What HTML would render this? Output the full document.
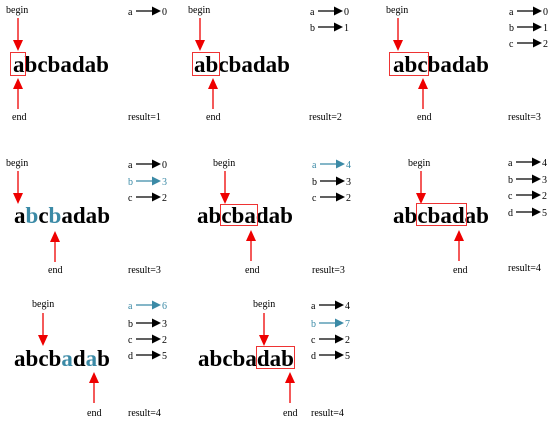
<!DOCTYPE html>
<html><head><meta charset="utf-8"><style>
html,body{margin:0;padding:0;background:#fff;}
svg{display:block;}
.s{font-family:"Liberation Serif",serif;font-size:10px;fill:#000;}
.w{font-family:"Liberation Serif",serif;font-size:23.5px;font-weight:bold;fill:#000;}
.bl{fill:#3b8aa6;}
</style></head><body>
<svg width="552" height="422" viewBox="0 0 552 422" xmlns="http://www.w3.org/2000/svg">
<defs>
<g id="rd"><line x1="0" y1="0" x2="0" y2="24" stroke="#e00" stroke-width="1.3"/><polygon points="-5,22 5,22 0,33" fill="#e00"/></g>
<g id="ru"><line x1="0" y1="0" x2="0" y2="-22" stroke="#e00" stroke-width="1.3"/><polygon points="-5,-20 5,-20 0,-31" fill="#e00"/></g>
<g id="ka"><line x1="8" y1="-4" x2="26" y2="-4" stroke="#000" stroke-width="1.2"/><polygon points="24,-8.5 33,-4 24,0.5" fill="#000"/></g>
<g id="ba"><line x1="8" y1="-4" x2="26" y2="-4" stroke="#3b8aa6" stroke-width="1.2"/><polygon points="24,-8.5 33,-4 24,0.5" fill="#3b8aa6"/></g>
</defs>

<!-- P1 -->
<text class="s" x="6" y="13">begin</text>
<use href="#rd" x="18" y="18"/>
<text class="w" x="13" y="72" textLength="96" lengthAdjust="spacingAndGlyphs">abcbadab</text>
<rect x="10.5" y="52.5" width="15" height="23" fill="none" stroke="#e33" stroke-width="1"/>
<use href="#ru" x="18" y="109"/>
<text class="s" x="12" y="120">end</text>
<text class="s" x="128" y="15">a</text><use href="#ka" x="128" y="15"/><text class="s" x="162" y="15">0</text>
<text class="s" x="128" y="120">result=1</text>

<!-- P2 -->
<text class="s" x="188" y="13">begin</text>
<use href="#rd" x="200" y="18"/>
<text class="w" x="194" y="72" textLength="96" lengthAdjust="spacingAndGlyphs">abcbadab</text>
<rect x="192.5" y="52.5" width="27" height="23" fill="none" stroke="#e33" stroke-width="1"/>
<use href="#ru" x="213" y="109"/>
<text class="s" x="206" y="120">end</text>
<text class="s" x="310" y="15">a</text><use href="#ka" x="310" y="15"/><text class="s" x="344" y="15">0</text>
<text class="s" x="310" y="31">b</text><use href="#ka" x="310" y="31"/><text class="s" x="344" y="31">1</text>
<text class="s" x="309" y="120">result=2</text>

<!-- P3 -->
<text class="s" x="386" y="13">begin</text>
<use href="#rd" x="398" y="18"/>
<text class="w" x="393" y="72" textLength="96" lengthAdjust="spacingAndGlyphs">abcbadab</text>
<rect x="389.5" y="52.5" width="39" height="23" fill="none" stroke="#e33" stroke-width="1"/>
<use href="#ru" x="423" y="109"/>
<text class="s" x="417" y="120">end</text>
<text class="s" x="509" y="15">a</text><use href="#ka" x="509" y="15"/><text class="s" x="543" y="15">0</text>
<text class="s" x="509" y="31">b</text><use href="#ka" x="509" y="31"/><text class="s" x="543" y="31">1</text>
<text class="s" x="509" y="47">c</text><use href="#ka" x="509" y="47"/><text class="s" x="543" y="47">2</text>
<text class="s" x="508" y="120">result=3</text>

<!-- P4 -->
<text class="s" x="6" y="166">begin</text>
<use href="#rd" x="18" y="171"/>
<text class="w" x="14" y="223" textLength="96" lengthAdjust="spacingAndGlyphs">a<tspan class="bl">b</tspan>c<tspan class="bl">b</tspan>adab</text>
<use href="#ru" x="55" y="262"/>
<text class="s" x="48" y="273">end</text>
<text class="s" x="128" y="168">a</text><use href="#ka" x="128" y="168"/><text class="s" x="162" y="168">0</text>
<text class="s bl" x="128" y="185">b</text><use href="#ba" x="128" y="185"/><text class="s bl" x="162" y="185">3</text>
<text class="s" x="128" y="201">c</text><use href="#ka" x="128" y="201"/><text class="s" x="162" y="201">2</text>
<text class="s" x="128" y="273">result=3</text>

<!-- P5 -->
<text class="s" x="213" y="166">begin</text>
<use href="#rd" x="225" y="171"/>
<text class="w" x="197" y="223" textLength="96" lengthAdjust="spacingAndGlyphs">abcbadab</text>
<rect x="220.5" y="204.5" width="37" height="21" fill="none" stroke="#e33" stroke-width="1"/>
<use href="#ru" x="251" y="261"/>
<text class="s" x="245" y="273">end</text>
<text class="s bl" x="312" y="168">a</text><use href="#ba" x="312" y="168"/><text class="s bl" x="346" y="168">4</text>
<text class="s" x="312" y="185">b</text><use href="#ka" x="312" y="185"/><text class="s" x="346" y="185">3</text>
<text class="s" x="312" y="201">c</text><use href="#ka" x="312" y="201"/><text class="s" x="346" y="201">2</text>
<text class="s" x="312" y="273">result=3</text>

<!-- P6 -->
<text class="s" x="408" y="166">begin</text>
<use href="#rd" x="421" y="171"/>
<text class="w" x="393" y="223" textLength="96" lengthAdjust="spacingAndGlyphs">abcbadab</text>
<rect x="416.5" y="203.5" width="50" height="22" fill="none" stroke="#e33" stroke-width="1"/>
<use href="#ru" x="459" y="261"/>
<text class="s" x="453" y="273">end</text>
<text class="s" x="508" y="166">a</text><use href="#ka" x="508" y="166"/><text class="s" x="542" y="166">4</text>
<text class="s" x="508" y="183">b</text><use href="#ka" x="508" y="183"/><text class="s" x="542" y="183">3</text>
<text class="s" x="508" y="199">c</text><use href="#ka" x="508" y="199"/><text class="s" x="542" y="199">2</text>
<text class="s" x="508" y="216">d</text><use href="#ka" x="508" y="216"/><text class="s" x="542" y="216">5</text>
<text class="s" x="508" y="271">result=4</text>

<!-- P7 -->
<text class="s" x="32" y="307">begin</text>
<use href="#rd" x="43" y="313"/>
<text class="w" x="14" y="366" textLength="96" lengthAdjust="spacingAndGlyphs">abcb<tspan class="bl">a</tspan>d<tspan class="bl">a</tspan>b</text>
<use href="#ru" x="94" y="403"/>
<text class="s" x="87" y="416">end</text>
<text class="s bl" x="128" y="309">a</text><use href="#ba" x="128" y="309"/><text class="s bl" x="162" y="309">6</text>
<text class="s" x="128" y="327">b</text><use href="#ka" x="128" y="327"/><text class="s" x="162" y="327">3</text>
<text class="s" x="128" y="343">c</text><use href="#ka" x="128" y="343"/><text class="s" x="162" y="343">2</text>
<text class="s" x="128" y="359">d</text><use href="#ka" x="128" y="359"/><text class="s" x="162" y="359">5</text>
<text class="s" x="128" y="416">result=4</text>

<!-- P8 -->
<text class="s" x="253" y="307">begin</text>
<use href="#rd" x="264" y="313"/>
<text class="w" x="198" y="366" textLength="96" lengthAdjust="spacingAndGlyphs">abcbadab</text>
<rect x="256.5" y="346.5" width="38" height="22" fill="none" stroke="#e33" stroke-width="1"/>
<use href="#ru" x="290" y="403"/>
<text class="s" x="283" y="416">end</text>
<text class="s" x="311" y="309">a</text><use href="#ka" x="311" y="309"/><text class="s" x="345" y="309">4</text>
<text class="s bl" x="311" y="327">b</text><use href="#ba" x="311" y="327"/><text class="s bl" x="345" y="327">7</text>
<text class="s" x="311" y="343">c</text><use href="#ka" x="311" y="343"/><text class="s" x="345" y="343">2</text>
<text class="s" x="311" y="359">d</text><use href="#ka" x="311" y="359"/><text class="s" x="345" y="359">5</text>
<text class="s" x="311" y="416">result=4</text>
</svg>
</body></html>
